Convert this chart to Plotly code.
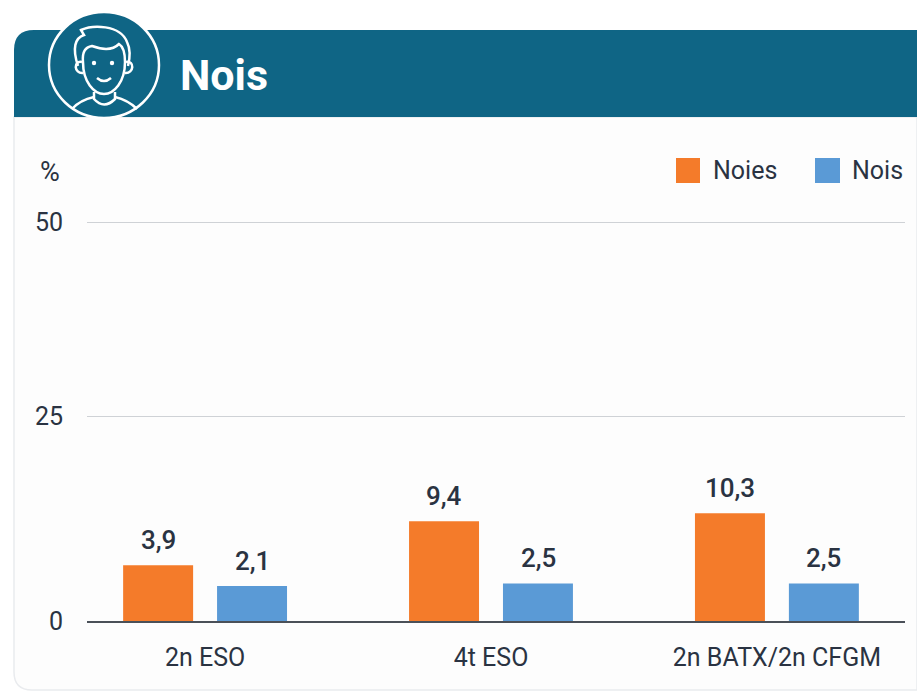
import plotly.graph_objects as go

W, H = 917, 693

categories = ["2n ESO", "4t ESO", "2n BATX/2n CFGM"]
series_names = ["Noies", "Nois"]
noies_heights = [7.0, 12.5, 13.5]
nois_heights = [4.4, 4.7, 4.7]
noies_labels = ["3,9", "9,4", "10,3"]
nois_labels = ["2,1", "2,5", "2,5"]
y_tick_vals = [0, 25.6, 50]
y_tick_text = ["0", "25", "50"]
title_text = "Nois"
unit_text = "%"

ORANGE = "#f47b2a"
BLUE = "#5a9ad6"
TEAL = "#0f6585"
INK = "#2a3342"
FONT = "Roboto, sans-serif"


def px(x):
    return x / W


def py(y):
    return 1 - y / H


def path(cmds):
    """Turn a list of (letter, x, y, ...) pixel commands into a paper-space SVG path."""
    out = []
    for c in cmds:
        parts = [c[0]]
        nums = c[1:]
        for i in range(0, len(nums), 2):
            parts.append(f"{px(nums[i]):.5f},{py(nums[i + 1]):.5f}")
        out.append(" ".join(parts))
    return " ".join(out)


def deco(cmds, fill=None, line=None, width=0, close=False):
    d = path(cmds) + (" Z" if close else "")
    return dict(type="path", xref="paper", yref="paper", path=d,
                fillcolor=fill or "rgba(0,0,0,0)",
                line=dict(color=line or "rgba(0,0,0,0)", width=width), layer="below")


def oval(cx, cy, rx, ry, fill=None, line=None, width=0):
    return dict(type="circle", xref="paper", yref="paper",
                x0=px(cx - rx), x1=px(cx + rx), y0=py(cy + ry), y1=py(cy - ry),
                fillcolor=fill or "rgba(0,0,0,0)",
                line=dict(color=line or "rgba(0,0,0,0)", width=width), layer="below")


def box(x0, y0, x1, y1, fill):
    return dict(type="rect", xref="paper", yref="paper",
                x0=px(x0), x1=px(x1), y0=py(y1), y1=py(y0),
                fillcolor=fill, line=dict(width=0), layer="below")


WHITE = "#ffffff"
shapes = [
    # card body
    deco([("M", 14, 117), ("L", 14, 672), ("Q", 14, 690, 32, 690), ("L", 917, 690), ("L", 917, 117)],
         fill="#fdfdfd", line="#e9ebee", width=1.5, close=True),
    # header band
    deco([("M", 14, 117), ("L", 14, 50), ("Q", 14, 30, 34, 30), ("L", 917, 30), ("L", 917, 117)],
         fill=TEAL, close=True),
    # avatar
    oval(104, 65, 55, 53, fill=TEAL, line=WHITE, width=2.5),
    deco([("M", 78, 66), ("C", 72, 48, 75, 38, 84, 35), ("L", 81, 30), ("C", 92, 25, 120, 24, 127, 42),
          ("C", 131, 50, 130, 58, 128, 66)], line=WHITE, width=2.5),
    deco([("M", 83, 62), ("C", 82, 52, 85, 47, 92, 46), ("C", 103, 50, 113, 50, 119, 44),
          ("C", 124, 47, 125, 54, 125, 62), ("C", 125, 82, 114, 94, 104, 94),
          ("C", 94, 94, 83, 82, 83, 62)], line=WHITE, width=2.5),
    deco([("M", 82, 62), ("C", 73, 60, 74, 74, 83, 73)], line=WHITE, width=2.5),
    deco([("M", 126, 62), ("C", 135, 60, 134, 74, 125, 73)], line=WHITE, width=2.5),
    oval(94, 63, 2.2, 2.2, fill=WHITE),
    oval(112, 63, 2.2, 2.2, fill=WHITE),
    deco([("M", 97, 78), ("Q", 104, 84, 111, 78)], line=WHITE, width=2.5),
    deco([("M", 94, 92), ("L", 94, 99), ("Q", 104, 110, 115, 99), ("L", 115, 92)], line=WHITE, width=2.5),
    deco([("M", 72, 109), ("Q", 80, 100, 94, 97)], line=WHITE, width=2.5),
    deco([("M", 137, 109), ("Q", 128, 100, 115, 97)], line=WHITE, width=2.5),
    # legend swatches
    box(676, 158, 700, 183, ORANGE),
    box(815, 158, 840, 183, BLUE),
]

annotations = [
    dict(xref="paper", yref="paper", x=px(178), y=py(75), text=f"<b>{title_text}</b>", showarrow=False,
         xanchor="left", yanchor="middle", font=dict(family=FONT, size=43, color=WHITE)),
    dict(xref="paper", yref="paper", x=px(50), y=py(172), text=unit_text, showarrow=False,
         xanchor="center", yanchor="middle", font=dict(family=FONT, size=27, color=INK)),
    dict(xref="paper", yref="paper", x=px(711), y=py(171), text=series_names[0], showarrow=False,
         xanchor="left", yanchor="middle", font=dict(family=FONT, size=25, color=INK)),
    dict(xref="paper", yref="paper", x=px(850), y=py(171), text=series_names[1], showarrow=False,
         xanchor="left", yanchor="middle", font=dict(family=FONT, size=25, color=INK)),
]

for labels, heights, shift in ((noies_labels, noies_heights, -47), (nois_labels, nois_heights, 47)):
    for cat, lab, h in zip(categories, labels, heights):
        annotations.append(dict(x=cat, y=h, xref="x", yref="y", text=lab, showarrow=False,
                                xshift=shift, yshift=8, yanchor="bottom",
                                font=dict(family=FONT, size=26, color=INK, weight=500)))

fig = go.Figure()
fig.add_bar(x=categories, y=noies_heights, name=series_names[0], marker=dict(color=ORANGE, line=dict(width=0)))
fig.add_bar(x=categories, y=nois_heights, name=series_names[1], marker=dict(color=BLUE, line=dict(width=0)))

fig.update_layout(
    width=W, height=H, margin=dict(l=0, r=0, t=0, b=0, autoexpand=False),
    paper_bgcolor=WHITE, plot_bgcolor="rgba(0,0,0,0)",
    barmode="group", bargap=0.343, bargroupgap=0.255,
    showlegend=False, shapes=shapes, annotations=annotations,
    font=dict(family=FONT, color=INK, size=25),
    hovermode=False,
)
fig.update_xaxes(
    domain=[px(87), px(905)], type="category", categoryorder="array", categoryarray=categories,
    range=[-0.413, 2.448], showgrid=False, zeroline=False, showline=True,
    linecolor="#4a5058", linewidth=2, ticks="outside", ticklen=13, tickcolor="rgba(0,0,0,0)",
    tickfont=dict(family=FONT, size=25, color=INK), anchor="y",
)
fig.update_yaxes(
    domain=[py(621), py(206.04)], range=[0, 52], tickmode="array", tickvals=y_tick_vals, ticktext=y_tick_text,
    showgrid=True, gridcolor="#cfd2d6", gridwidth=1, zeroline=False, showline=False,
    ticks="outside", ticklen=18, tickcolor="rgba(0,0,0,0)",
    tickfont=dict(family=FONT, size=25, color=INK), anchor="x",
)

fig.write_html("out.html", config={"displayModeBar": False},
               post_script="document.body.style.margin='0';document.body.style.overflow='hidden';")
